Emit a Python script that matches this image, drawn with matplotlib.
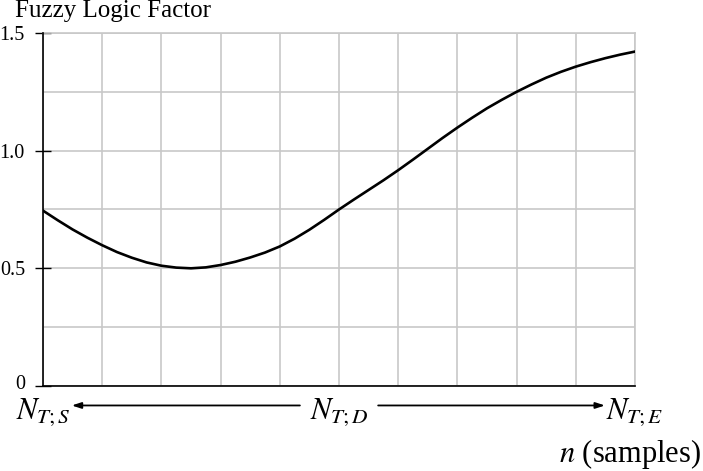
import matplotlib
matplotlib.use("Agg")
import matplotlib.pyplot as plt
import matplotlib.transforms as mtransforms
from matplotlib.ticker import FixedLocator, FixedFormatter

plt.rcParams['font.family'] = ['Liberation Serif', 'DejaVu Serif']
plt.rcParams['mathtext.fontset'] = 'stix'

# curve, one value every quarter sample step
n_values = [0.0, 0.25, 0.5, 0.75, 1.0, 1.25, 1.5, 1.75, 2.0, 2.25,
            2.5, 2.75, 3.0, 3.25, 3.5, 3.75, 4.0, 4.25, 4.5, 4.75,
            5.0, 5.25, 5.5, 5.75, 6.0, 6.25, 6.5, 6.75, 7.0, 7.25,
            7.5, 7.75, 8.0, 8.25, 8.5, 8.75, 9.0, 9.25, 9.5, 9.75, 10.0]
factor = [0.745, 0.704, 0.665, 0.630, 0.598, 0.569, 0.545, 0.525, 0.511, 0.503,
          0.500, 0.504, 0.514, 0.528, 0.546, 0.567, 0.593, 0.626, 0.664, 0.706,
          0.750, 0.792, 0.833, 0.874, 0.917, 0.962, 1.008, 1.054, 1.098, 1.140,
          1.180, 1.216, 1.250, 1.281, 1.310, 1.335, 1.357, 1.376, 1.393, 1.408, 1.421]

x_grid = [0, 1, 2, 3, 4, 5, 6, 7, 8, 9, 10]
y_major = [0, 0.5, 1.0, 1.5]
y_major_labels = ['0', '0.5', '1.0', '1.5']
y_minor = [0.25, 0.75, 1.25]

grid_color = '#c8c8c8'

fig = plt.figure(figsize=(7.03, 4.71), dpi=100)
ax = fig.add_axes([0.0612, 0.1805, 0.8421, 0.7495])

ax.plot(n_values, factor, color='black', linewidth=1.9, zorder=3,
        solid_joinstyle='round')

ax.set_xlim(0, 10)
ax.set_ylim(0, 1.5)

ax.xaxis.set_major_locator(FixedLocator(x_grid))
ax.xaxis.set_major_formatter(FixedFormatter([''] * len(x_grid)))
ax.yaxis.set_major_locator(FixedLocator(y_major))
ax.yaxis.set_major_formatter(FixedFormatter(y_major_labels))
ax.yaxis.set_minor_locator(FixedLocator(y_minor))

ax.grid(True, which='both', color=grid_color, linewidth=1.2)
ax.set_axisbelow(True)

ax.tick_params(axis='x', which='both', length=0)
ax.tick_params(axis='y', which='major', direction='inout', length=12, width=1.0,
               labelsize=14.5, pad=7)
ax.tick_params(axis='y', which='minor', length=0)

# lift the "0" a touch so it clears the N_{T;S} label below
zero_label = ax.yaxis.get_major_ticks()[0].label1
zero_label.set_transform(zero_label.get_transform() +
                         mtransforms.ScaledTranslation(0, 3 / 72, fig.dpi_scale_trans))

for side in ['top', 'right']:
    ax.spines[side].set_color(grid_color)
    ax.spines[side].set_linewidth(1.2)
for side in ['left', 'bottom']:
    ax.spines[side].set_color('black')
    ax.spines[side].set_linewidth(1.2)
    ax.spines[side].set_zorder(4)

# title of the y axis, top left
fig.text(15 / 703, 0.963, 'Fuzzy Logic Factor', fontsize=18, ha='left', va='baseline')

# sample range markers under the axis
trans = ax.get_xaxis_transform()
label_y = -0.092
t_start = ax.text(0, label_y, r'$N_{T;S}$', transform=trans, fontsize=22,
                  ha='center', va='baseline')
t_dur = ax.text(5, label_y, r'$N_{T;D}$', transform=trans, fontsize=22,
                ha='center', va='baseline')
t_end = ax.text(10, label_y, r'$N_{T;E}$', transform=trans, fontsize=22,
                ha='center', va='baseline')

arrow = dict(arrowstyle='-|>,head_length=0.55,head_width=0.18', color='black',
             linewidth=1.3, shrinkA=7, shrinkB=1)
ax.annotate('', xy=(1, 0.7), xycoords=t_start, xytext=(0, 0.7), textcoords=t_dur,
            arrowprops=arrow)
ax.annotate('', xy=(0, 0.7), xycoords=t_end, xytext=(1, 0.7), textcoords=t_dur,
            arrowprops=arrow)

fig.text(0.997, 0.019, r'$n$ (samples)', fontsize=22, ha='right', va='baseline')

fig.savefig('out.png', dpi=100)
